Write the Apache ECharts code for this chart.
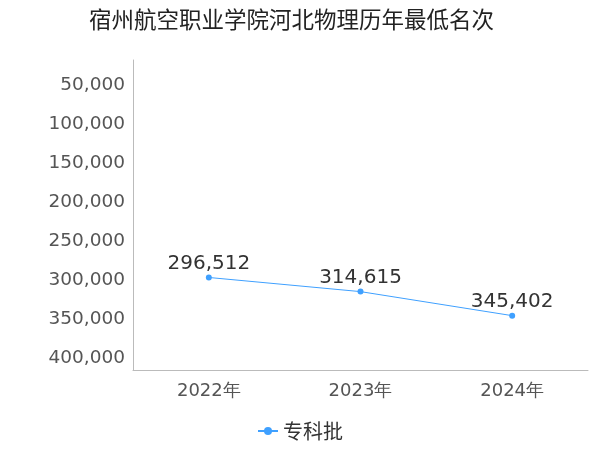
<!DOCTYPE html>
<html><head><meta charset="utf-8">
<script src="https://cdn.jsdelivr.net/npm/echarts@6/dist/echarts.min.js"></script>
<style>html,body{margin:0;padding:0}#c{width:600px;height:450px}</style>
</head><body><div id="c"></div>
<script>
const categories = ['2022年','2023年','2024年'];
const values = [296512, 314615, 345402];
const yTicks = [50000,100000,150000,200000,250000,300000,350000,400000];
const chart = echarts.init(document.getElementById('c'));
chart.setOption({
  title:{text:'宿州航空职业学院河北物理历年最低名次',left:84,top:3,textStyle:{fontSize:22.5,fontWeight:'normal',color:'#222',fontFamily:'Noto Sans CJK SC'}},
  legend:{data:['专科批'],bottom:4,left:'center',textStyle:{fontSize:20,color:'#333',fontFamily:'Noto Sans CJK SC'},itemWidth:20,itemHeight:10},
  grid:{left:133,right:12,top:60,bottom:80},
  xAxis:{type:'category',data:categories,axisLine:{lineStyle:{color:'#bbb'}},axisTick:{show:false},
    axisLabel:{fontSize:18,color:'#555',margin:12,fontFamily:'DejaVu Sans'}},
  yAxis:{type:'value',inverse:true,min:18000,max:415000,
    axisLine:{show:true,lineStyle:{color:'#bbb'}},axisTick:{show:false},
    splitLine:{show:false},
    axisLabel:{customValues:yTicks,fontSize:18.5,color:'#555',fontFamily:'DejaVu Sans',
      formatter:v=>v.toLocaleString('en-US')}},
  series:[{name:'专科批',type:'line',data:values,symbol:'circle',symbolSize:6,
    itemStyle:{color:'#3fa0ff'},lineStyle:{width:1,color:'#3fa0ff'},
    label:{show:true,position:'top',distance:1,fontSize:20,color:'#333',fontFamily:'DejaVu Sans',
      formatter:p=>p.value.toLocaleString('en-US')}}]
});
</script></body></html>
